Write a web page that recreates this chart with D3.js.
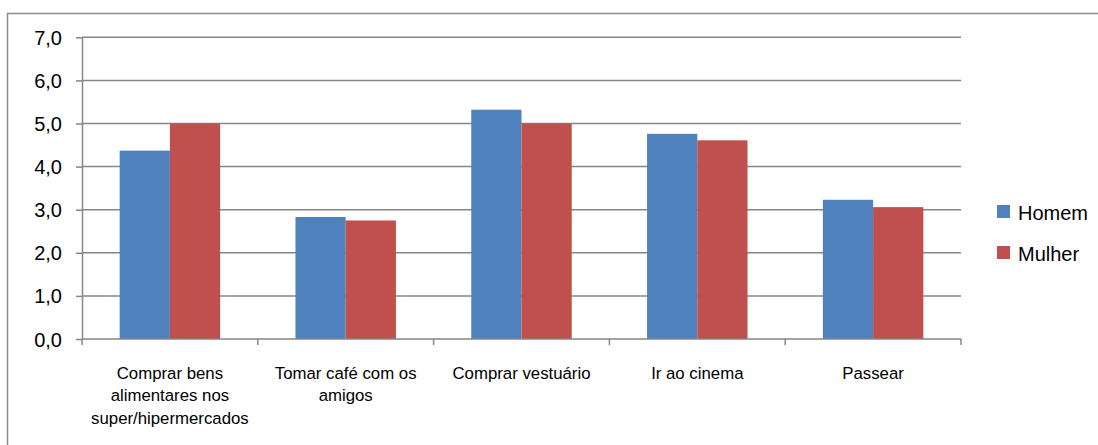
<!DOCTYPE html>
<html>
<head>
<meta charset="utf-8">
<script src="https://cdn.jsdelivr.net/npm/d3@7"></script>
<style>
  html, body { margin: 0; padding: 0; background: #fff; }
  svg { display: block; }
  text { font-family: "Liberation Sans", Arial, sans-serif; fill: #000; }
</style>
</head>
<body>
<svg id="chart" width="1098" height="445"></svg>
<script>
// Activities (multi-line category labels)
const categories = [
  ["Comprar bens", "alimentares nos", "super/hipermercados"],
  ["Tomar café com os", "amigos"],
  ["Comprar vestuário"],
  ["Ir ao cinema"],
  ["Passear"]
];
const seriesNames = ["Homem", "Mulher"];
const homem  = [4.37, 2.83, 5.32, 4.76, 3.23];
const mulher = [5.00, 2.75, 5.00, 4.61, 3.06];
const yTicks = [0, 1, 2, 3, 4, 5, 6, 7];
const colors = ["#4F81BD", "#C0504D"];

const svg = d3.select("#chart");
const W = 1098, H = 445;
const plot = { left: 82, right: 961, top: 37.3, bottom: 339 };
const axisColor = "#868686";

// outer chart frame
svg.append("rect")
  .attr("x", 7.5).attr("y", 13.5)
  .attr("width", W + 10).attr("height", H + 10)
  .attr("fill", "none").attr("stroke", "#8c8c8c").attr("stroke-width", 1.5);

const ids = categories.map((_, i) => i);
const x0 = d3.scaleBand().domain(ids)
  .range([plot.left, plot.right])
  .paddingInner(1.5 / 3.5).paddingOuter(0.75 / 3.5);
const x1 = d3.scaleBand().domain(seriesNames).range([0, x0.bandwidth()]).padding(0);
const y = d3.scaleLinear().domain([0, 7]).range([plot.bottom, plot.top]);

// horizontal gridlines
svg.append("g").selectAll("line").data(yTicks.filter(d => d > 0)).join("line")
  .attr("x1", plot.left).attr("x2", plot.right)
  .attr("y1", d => y(d)).attr("y2", d => y(d))
  .attr("stroke", axisColor).attr("stroke-width", 1.5);

// bars
const rows = ids.map(i => ({ i, vals: [homem[i], mulher[i]] }));
const groups = svg.append("g").selectAll("g").data(rows).join("g")
  .attr("transform", d => `translate(${x0(d.i)},0)`);
groups.selectAll("rect").data(d => d.vals.map((v, k) => ({ v, k }))).join("rect")
  .attr("x", d => x1(seriesNames[d.k]))
  .attr("width", x1.bandwidth())
  .attr("y", d => y(d.v))
  .attr("height", d => y(0) - y(d.v))
  .attr("fill", d => colors[d.k]);

// y axis
const yAxis = d3.axisLeft(y).tickValues(yTicks)
  .tickFormat(d => d3.format(".1f")(d).replace(".", ","))
  .tickSize(6).tickSizeOuter(0).tickPadding(14);
const gy = svg.append("g").attr("transform", `translate(${plot.left},0)`).call(yAxis);
gy.select(".domain").attr("stroke", axisColor).attr("stroke-width", 1.5);
gy.selectAll(".tick line").attr("stroke", axisColor).attr("stroke-width", 1.5);
gy.selectAll(".tick text").style("font-size", "20px").attr("fill", "#000").attr("dy", "0.35em");

// x axis baseline with boundary ticks
const step = x0.step();
const bounds = d3.range(ids.length + 1).map(i => plot.left + i * step);
svg.append("line")
  .attr("x1", plot.left).attr("x2", plot.right)
  .attr("y1", plot.bottom).attr("y2", plot.bottom)
  .attr("stroke", axisColor).attr("stroke-width", 1.5);
svg.append("g").selectAll("line").data(bounds).join("line")
  .attr("x1", d => d).attr("x2", d => d)
  .attr("y1", plot.bottom).attr("y2", plot.bottom + 6)
  .attr("stroke", axisColor).attr("stroke-width", 1.5);

// category labels
const lab = svg.append("g").selectAll("text").data(rows).join("text")
  .attr("text-anchor", "middle")
  .style("font-size", "16.8px")
  .attr("fill", "#000");
lab.each(function (d) {
  const cx = x0(d.i) + x0.bandwidth() / 2;
  d3.select(this).selectAll("tspan").data(categories[d.i]).join("tspan")
    .attr("x", cx)
    .attr("y", (t, j) => 378.5 + j * 22.5)
    .text(t => t);
});

// legend
const leg = svg.append("g").selectAll("g").data(seriesNames).join("g")
  .attr("transform", (d, k) => `translate(997,${205 + k * 41})`);
leg.append("rect").attr("width", 13).attr("height", 13).attr("fill", (d, k) => colors[k]);
leg.append("text").attr("x", 21).attr("y", 15).style("font-size", "20px").text(d => d);
</script>
</body>
</html>
